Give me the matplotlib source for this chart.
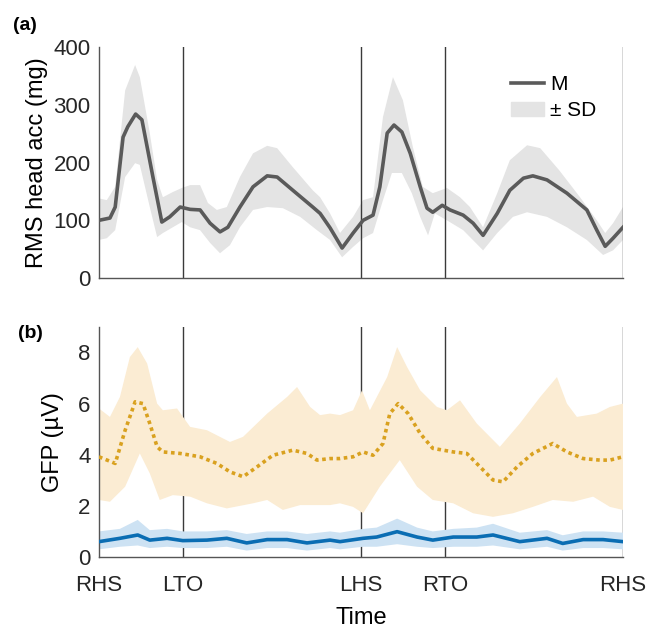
import matplotlib.pyplot as plt

plt.rcParams['font.family'] = ['Liberation Sans', 'DejaVu Sans']

# --- event markers (percent of gait cycle) ---
event_pos = [0, 16, 50, 66, 100]
event_labels = ['RHS', 'LTO', 'LHS', 'RTO', 'RHS']

# --- (a) RMS head acceleration ---
acc_x = [0, 2.1, 3.1, 4.6, 5.5, 7.0, 8.2, 10.3, 12.0, 13.5, 15.5, 17.4, 19.3, 21.2, 23.1, 24.6,
         26.9, 29.4, 32.1, 34.0, 37.0, 40.8, 42.2, 44.1, 46.4, 48.5, 50.4, 52.3, 53.6, 55.0, 56.3,
         57.8, 59.4, 61.3, 62.6, 63.7, 65.5, 67.0, 69.5, 71.4, 73.3, 76.0, 78.4, 81.0, 82.8, 85.5,
         89.3, 93.1, 95.0, 96.6, 98.1, 100]
acc_mean = [100, 104, 123, 244, 262, 284, 274, 175, 97, 106, 123, 119, 118, 95, 80, 88,
            123, 158, 177, 175, 152, 123, 112, 87, 52, 78, 100, 109, 158, 251, 265,
            253, 216, 158, 121, 114, 126, 118, 109, 95, 74, 112, 152, 173, 177, 170,
            147, 118, 83, 55, 69, 88]

acc_up_x = [0, 1.5, 3.1, 5.0, 6.9, 7.8, 9.7, 11.1, 12.2, 14.1, 15.8, 17.4, 19.3, 20.8, 22.5, 24.4,
            26.9, 29.4, 32.1, 34.0, 37.0, 40.8, 42.2, 44.1, 46.0, 48.5, 50.4, 52.3, 54.2, 56.1,
            58.0, 59.9, 61.8, 63.7, 66.4, 68.9, 70.8, 73.3, 76.0, 78.4, 81.7, 84.2, 87.8, 91.8,
            95.0, 96.6, 98.1, 100]
acc_up = [138, 135, 158, 325, 369, 348, 251, 170, 140, 149, 156, 161, 161, 130, 118, 123,
          175, 216, 229, 225, 192, 152, 140, 112, 78, 106, 135, 140, 279, 348,
          308, 227, 158, 147, 156, 140, 123, 88, 147, 204, 230, 225, 187, 140,
          100, 78, 95, 123]

acc_lo_x = [0, 1.5, 3.1, 5.0, 6.9, 7.8, 9.7, 11.1, 12.2, 14.1, 15.8, 17.4, 19.3, 21.2, 23.1, 25.0,
            26.9, 29.4, 32.1, 35.1, 38.4, 41.6, 44.1, 46.4, 48.5, 50.4, 52.3, 54.2, 55.9, 57.8,
            59.7, 61.3, 62.8, 64.1, 66.4, 69.5, 73.3, 76.0, 79.0, 81.7, 85.5, 89.3, 93.1, 96.2,
            98.1, 100]
acc_lo = [66, 69, 83, 175, 199, 196, 123, 71, 78, 88, 97, 88, 83, 61, 43, 57,
          88, 118, 123, 121, 106, 83, 66, 36, 54, 69, 78, 135, 182, 182,
          147, 106, 74, 112, 100, 83, 48, 78, 106, 114, 106, 88, 66, 40,
          48, 66]

# --- (b) GFP, orange (dotted) ---
or_x = [0, 3.1, 5.0, 6.9, 8.4, 9.7, 11.1, 12.2, 15.5, 19.3, 22.5, 25.0, 27.5, 30.2, 33.2, 37.0,
        39.7, 41.6, 44.1, 46.0, 48.5, 50.4, 52.3, 54.2, 55.5, 57.1, 59.0, 61.3, 63.7, 67.6,
        70.2, 72.7, 75.2, 77.1, 79.8, 82.8, 86.6, 89.3, 92.4, 95.6, 97.5, 100]
or_mean = [3.92, 3.66, 4.96, 6.07, 6.0, 5.22, 4.31, 4.11, 4.05, 3.92, 3.66, 3.33, 3.14, 3.53, 3.98, 4.18,
           4.05, 3.79, 3.85, 3.85, 3.92, 4.11, 3.98, 4.44, 5.61, 6.0, 5.61, 4.83, 4.25, 4.11,
           4.05, 3.53, 3.01, 2.94, 3.53, 4.05, 4.44, 4.11, 3.85, 3.79, 3.79, 3.92]

or_up_x = [0, 2.1, 4.0, 5.9, 7.4, 9.2, 11.1, 12.2, 14.9, 17.4, 20.6, 25.0, 27.5, 32.1, 35.9, 37.8,
           40.3, 42.2, 44.1, 46.0, 48.5, 50.2, 51.7, 55.0, 56.9, 58.8, 61.3, 64.5, 66.4, 68.9,
           72.1, 76.5, 80.3, 84.2, 87.4, 89.3, 91.2, 95.0, 97.5, 100]
or_up = [5.81, 5.48, 6.26, 7.82, 8.21, 7.57, 6.0, 5.74, 5.81, 5.09, 4.96, 4.5, 4.7, 5.61, 6.26, 6.65,
         5.87, 5.55, 5.61, 5.55, 5.74, 6.52, 5.74, 7.04, 8.21, 7.43, 6.52, 5.87, 5.74, 6.13,
         5.22, 4.31, 5.22, 6.26, 7.04, 6.0, 5.48, 5.61, 5.87, 6.0]

or_lo_x = [0, 2.1, 5.0, 7.8, 9.7, 11.6, 14.1, 17.4, 20.6, 24.4, 29.4, 32.1, 35.1, 38.4, 41.6, 44.1,
           46.0, 48.5, 50.4, 53.6, 57.4, 60.7, 63.7, 67.6, 71.4, 75.2, 79.0, 82.8, 86.6, 90.5,
           94.3, 97.5, 100]
or_lo = [2.23, 2.16, 2.75, 4.05, 3.27, 2.23, 2.42, 2.36, 2.1, 1.9, 2.1, 2.23, 1.84, 2.03, 2.03, 2.03,
         2.1, 1.96, 1.71, 2.75, 3.79, 2.75, 2.23, 2.1, 1.71, 1.57, 1.71, 1.96, 2.23, 2.16,
         2.36, 1.96, 1.84]

# --- (b) GFP, blue (solid) ---
bl_x = [0, 4.0, 7.4, 9.7, 13.0, 16.0, 20.6, 24.4, 28.2, 32.1, 35.9, 39.7, 44.1, 46.0,
        50.4, 53.0, 56.9, 60.7, 63.7, 67.6, 72.1, 75.2, 80.3, 85.5, 88.5, 92.4, 96.2, 100]
bl_mean = [0.6, 0.73, 0.86, 0.66, 0.73, 0.64, 0.66, 0.73, 0.55, 0.68, 0.68, 0.55, 0.66, 0.6,
           0.73, 0.78, 0.99, 0.78, 0.66, 0.78, 0.78, 0.86, 0.6, 0.73, 0.53, 0.68, 0.68, 0.6]
bl_up = [1.0, 1.1, 1.45, 1.05, 1.1, 1.0, 1.0, 1.05, 0.9, 1.0, 1.0, 0.9, 1.0, 0.95,
         1.1, 1.15, 1.5, 1.15, 1.0, 1.1, 1.15, 1.3, 0.95, 1.05, 0.85, 1.0, 1.0, 0.95]
bl_lo = [0.3, 0.4, 0.45, 0.35, 0.4, 0.35, 0.35, 0.4, 0.25, 0.35, 0.35, 0.25, 0.35, 0.3,
         0.4, 0.4, 0.5, 0.4, 0.35, 0.4, 0.4, 0.45, 0.3, 0.4, 0.25, 0.35, 0.35, 0.3]

GRAY = '#5a5a5a'
ORANGE = '#d9a11f'
BLUE = '#0a6db3'
AX_COL = '#555555'
FS = 16


def band(ax, ux, uy, lx, ly, color, z):
    # polygon: upper edge left->right, lower edge right->left
    xs = list(ux) + list(lx)[::-1]
    ys = list(uy) + list(ly)[::-1]
    ax.fill(xs, ys, color=color, lw=0, zorder=z)


def style(ax):
    ax.spines['top'].set_visible(False)
    ax.spines['right'].set_visible(False)
    for s in ['left', 'bottom']:
        ax.spines[s].set_color(AX_COL)
        ax.spines[s].set_linewidth(1.0)
    ax.set_xlim(0, 100)
    ax.tick_params(axis='both', length=0, labelsize=FS, colors='#262626', pad=6)


fig = plt.figure(figsize=(6.51, 6.32), dpi=100)
ax1 = fig.add_axes([0.152, 0.560, 0.805, 0.3655])
ax2 = fig.add_axes([0.152, 0.1187, 0.805, 0.364])

# --- panel (a) ---
style(ax1)
band(ax1, acc_up_x, acc_up, acc_lo_x, acc_lo, '#e4e4e4', 1)
for xp in event_pos[1:]:
    ax1.axvline(xp, color='#3a3a3a', lw=1.0, zorder=2)
ax1.plot(acc_x, acc_mean, color=GRAY, lw=2.6, zorder=3, label='M')
ax1.fill([], [], color='#e4e4e4', label='± SD')
ax1.set_ylim(0, 400)
ax1.set_yticks([0, 100, 200, 300, 400])
ax1.set_xticks([])
ax1.set_ylabel('RMS head acc (mg)', fontsize=FS + 1, labelpad=4)
leg = ax1.legend(loc='upper right', bbox_to_anchor=(0.985, 0.96), frameon=False,
                 fontsize=FS - 1, handlelength=1.6, handletextpad=0.3, labelspacing=0.35)
fig.text(0.02, 0.953, '(a)', fontsize=14, fontweight='bold')

# --- panel (b) ---
style(ax2)
for xp in event_pos[1:]:
    ax2.axvline(xp, color='#3a3a3a', lw=1.0, zorder=1)
band(ax2, or_up_x, or_up, or_lo_x, or_lo, '#fbecd3', 2)
band(ax2, bl_x, bl_up, bl_x, bl_lo, '#cde2f3', 2)
ax2.plot(or_x, or_mean, color=ORANGE, lw=2.6, ls=(0, (1, 1)), zorder=3)
ax2.plot(bl_x, bl_mean, color=BLUE, lw=2.6, zorder=3)
ax2.set_ylim(0, 9)
ax2.set_yticks([0, 2, 4, 6, 8])
ax2.set_xticks(event_pos)
ax2.set_xticklabels(event_labels)
ax2.tick_params(axis='x', pad=13)
ax2.set_ylabel('GFP (µV)', fontsize=FS + 1, labelpad=10)
ax2.set_xlabel('Time', fontsize=FS + 1, labelpad=8)
fig.text(0.028, 0.465, '(b)', fontsize=14, fontweight='bold')

fig.savefig('out.png', dpi=100)
